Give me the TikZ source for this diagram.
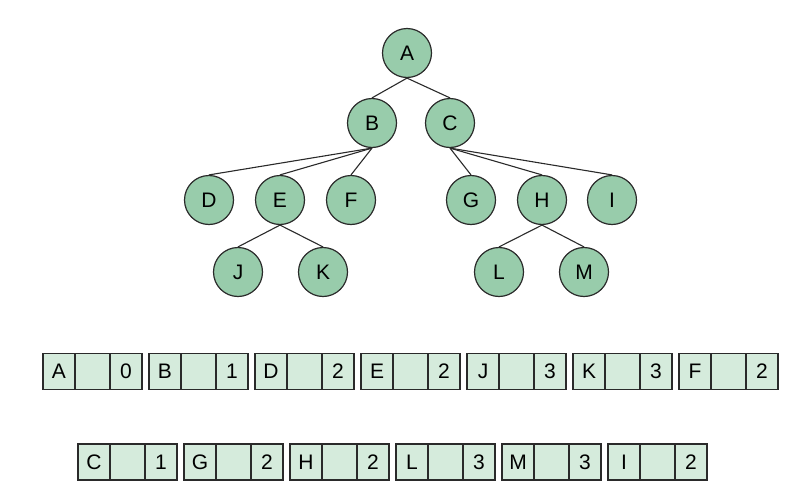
\documentclass[tikz,border=0pt]{standalone}
\usepackage{fontspec}
\setmainfont{Liberation Sans}
\usetikzlibrary{positioning}
\definecolor{nodegreen}{HTML}{98CCAB}
\definecolor{cellgreen}{HTML}{D5EBDC}
\definecolor{linegray}{HTML}{2A2A2A}

\begin{document}
\begin{tikzpicture}
[
    x=1pt, y=-1pt, node distance=0pt,
    % tree nodes are named N-letter, record cells R-row-index-part
    font=\fontsize{21}{25}\selectfont
]

%=================================== Start ===================================
\tikzstyle{v}    = [circle, draw=linegray, fill=nodegreen, line width=1.2pt,
                    minimum size=49pt, inner sep=0pt]
\tikzstyle{cell} = [rectangle, draw=linegray, fill=cellgreen, line width=1.2pt,
                    minimum height=36pt, inner sep=0pt, outer sep=0pt]
\tikzstyle{link} = [draw=linegray, line width=1.1pt]

\useasboundingbox (0,0) rectangle (806,498);

% Draw the tree nodes
\foreach \name / \x / \y in {A/407/53, B/372/123, C/450/123,
                             D/209/200, E/280/200, F/351/200,
                             G/471/200, H/542/200, I/612/200,
                             J/238/272, K/323/272, L/499/272, M/584/272}
    \node[v] (N-\name) at (\x,\y) {\name};

% Connect parents and children
\foreach \p / \c in {A/B, A/C, B/D, B/E, B/F, C/G, C/H, C/I,
                     E/J, E/K, H/L, H/M}
    \path (N-\p.south) edge[link] (N-\c.north);

% Draw the records: first row
\foreach \i / \a / \n in {0/A/0, 1/B/1, 2/D/2, 3/E/2, 4/J/3, 5/K/3, 6/F/2}
{
    \node[cell, minimum width=32pt, anchor=west] (R-0-\i-a) at (43+106*\i, 371.5) {\a};
    \node[cell, minimum width=35pt, right=of R-0-\i-a] (R-0-\i-b) {};
    \node[cell, minimum width=32pt, right=of R-0-\i-b] (R-0-\i-c) {\n};
}
% second row
\foreach \i / \a / \n in {0/C/1, 1/G/2, 2/H/2, 3/L/3, 4/M/3, 5/I/2}
{
    \node[cell, minimum width=32pt, anchor=west] (R-1-\i-a) at (78+106*\i, 462) {\a};
    \node[cell, minimum width=35pt, right=of R-1-\i-a] (R-1-\i-b) {};
    \node[cell, minimum width=32pt, right=of R-1-\i-b] (R-1-\i-c) {\n};
}
%==================================== END ====================================

\end{tikzpicture}
\end{document}
